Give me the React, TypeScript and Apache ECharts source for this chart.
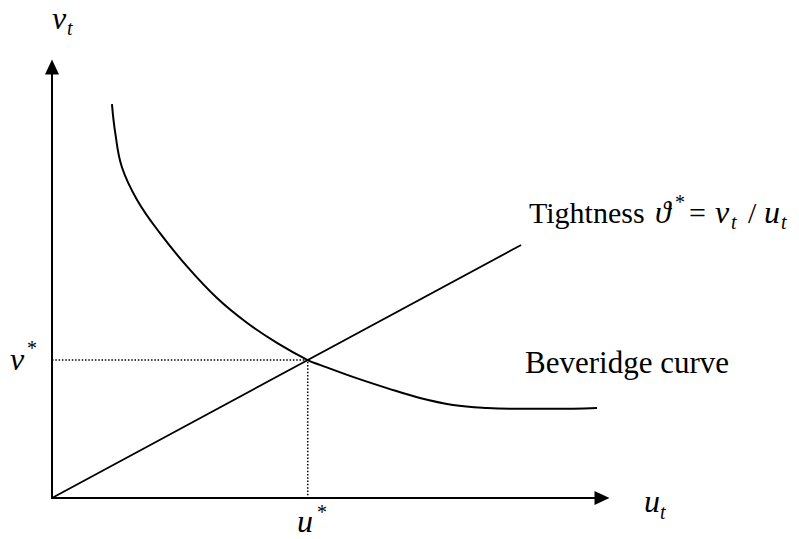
import React, { useEffect, useRef } from "react";
import * as echarts from "echarts";

// Beveridge curve: vacancies v_t against unemployment u_t
const beveridgeU = [1.09, 1.15, 1.27, 1.55, 1.96, 2.45, 3.0, 3.55, 4.09, 4.65, 4.87, 5.47, 6.09, 6.69, 7.29, 7.91, 8.51, 9.11, 9.91];
const beveridgeV = [9.14, 8.47, 7.68, 6.91, 6.15, 5.38, 4.64, 4.06, 3.6, 3.2, 3.09, 2.81, 2.55, 2.32, 2.16, 2.09, 2.07, 2.07, 2.09];

// Steady-state point and the tightness ray through it
const uStar = 4.65;
const vStar = 3.2;
const tightnessEndU = 8.53;
const tightnessSlope = vStar / uStar;

const axisMax = 10;

const SERIF = '"Liberation Serif", "Times New Roman", "DejaVu Serif", serif';
const CENTRAL = 0.3375; // distance from em-box centre to baseline, in em

function txt(x: number, baseline: number, text: string, fontSize: number, italic: boolean) {
  return {
    type: "text",
    x,
    y: baseline - CENTRAL * fontSize,
    silent: true,
    style: {
      text,
      fontSize,
      fontFamily: SERIF,
      fontStyle: italic ? "italic" : "normal",
      fill: "#000",
      align: "left",
      verticalAlign: "middle",
    },
  };
}

export default function App() {
  const ref = useRef<HTMLDivElement>(null);

  useEffect(() => {
    if (!ref.current) return;
    const chart = echarts.init(ref.current, null, { renderer: "svg" });

    const curve = beveridgeU.map((u, i) => [u, beveridgeV[i]]);
    const ray = [
      [0, 0],
      [tightnessEndU, tightnessEndU * tightnessSlope],
    ];

    const axisCommon = {
      type: "value",
      min: 0,
      max: axisMax,
      splitLine: { show: false },
      axisTick: { show: false },
      axisLabel: { show: false },
      axisLine: {
        show: true,
        symbol: ["none", "triangle"],
        symbolSize: [14, 15],
        lineStyle: { color: "#000", width: 2 },
      },
    };

    const M = 32; // math italics
    const S = 20; // sub/superscripts
    const F = 30; // running text

    chart.setOption({
      animation: false,
      backgroundColor: "#fff",
      grid: { left: 52, right: 197, top: 67, bottom: 41 },
      xAxis: axisCommon,
      yAxis: axisCommon,
      series: [
        {
          type: "line",
          data: curve,
          smooth: 0.4,
          showSymbol: false,
          lineStyle: { color: "#000", width: 2 },
          z: 3,
        },
        {
          type: "line",
          data: ray,
          showSymbol: false,
          lineStyle: { color: "#000", width: 1.8 },
          z: 3,
        },
        {
          type: "line",
          data: [
            [0, vStar],
            [uStar, vStar],
            [uStar, 0],
          ],
          showSymbol: false,
          lineStyle: { color: "#000", width: 1.5, type: [1.5, 1.8] },
          z: 2,
        },
      ],
      graphic: [
        // vertical axis title v_t
        txt(52, 29, "v", M, true),
        txt(67, 35, "t", S, true),
        // horizontal axis title u_t
        txt(644, 512, "u", M, true),
        txt(660, 519, "t", S, true),
        // v*
        txt(10, 370, "v", M, true),
        txt(27, 355, "*", S, false),
        // u*
        txt(297, 532, "u", M, true),
        txt(317, 519, "*", S, false),
        // Tightness ϑ* = v_t / u_t
        txt(529, 223, "Tightness", F, false),
        txt(655, 223, "ϑ", M, true),
        txt(675, 209, "*", S, false),
        txt(689, 223, "=", F, false),
        txt(715, 223, "v", M, true),
        txt(731, 229, "t", S, true),
        txt(748, 223, "/", F, false),
        txt(764, 223, "u", M, true),
        txt(781, 229, "t", S, true),
        // Beveridge curve label
        txt(525, 373, "Beveridge curve", 31, false),
      ],
    });

    return () => chart.dispose();
  }, []);

  return (
    <div
      ref={ref}
      style={{ position: "fixed", left: 0, top: 0, width: 799, height: 539, background: "#fff" }}
    />
  );
}
